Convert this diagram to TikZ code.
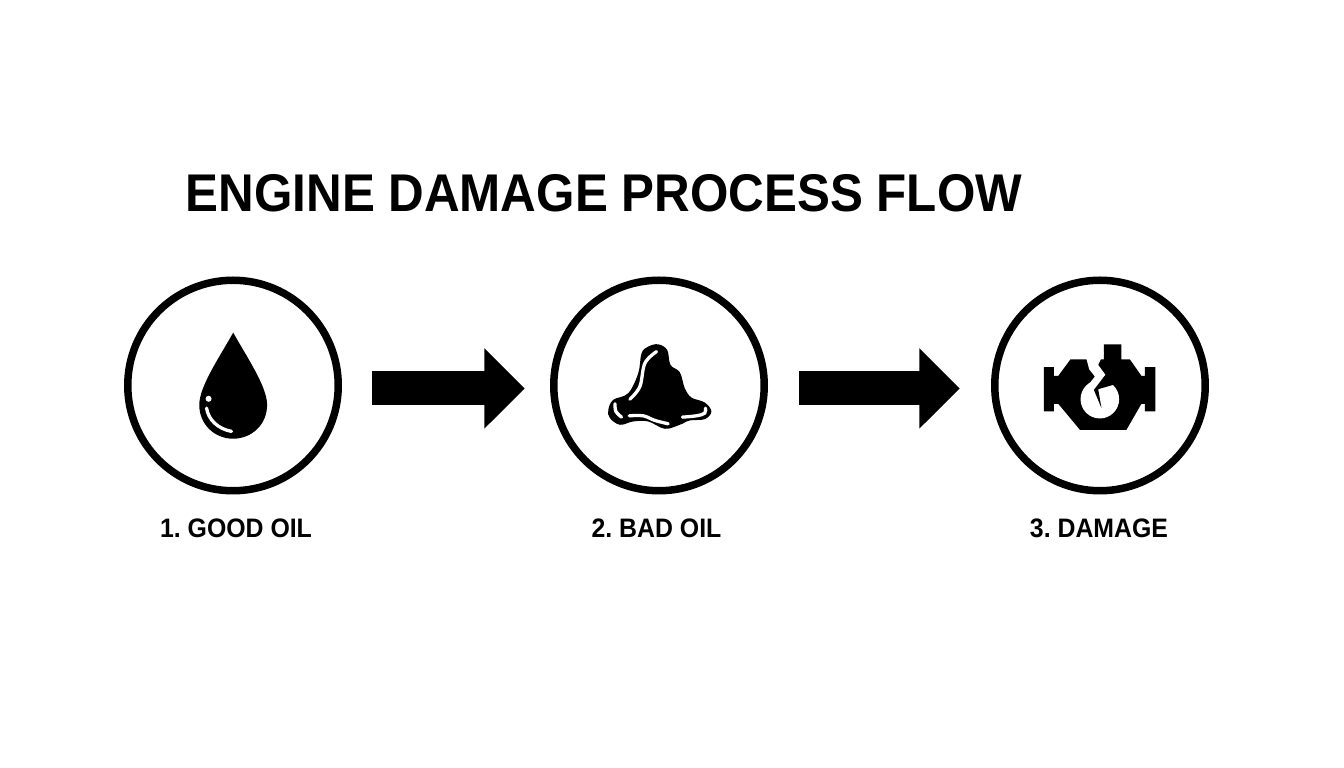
\documentclass[tikz,border=0pt]{standalone}
\usepackage{fontspec}
\setmainfont{Liberation Sans}[FakeStretch=.93]
\frenchspacing
\usetikzlibrary{arrows.meta}
\tikzstyle{ring}=[circle,draw,line width=.075cm,minimum size=2.105cm,inner sep=0,outer sep=0]
\tikzstyle{flowarrow}=[line width=.34cm,-{Triangle[length=.405cm,width=.78cm]}]
\tikzstyle{steplabel}=[anchor=base,inner sep=0,font=\fontsize{7.6}{9}\selectfont\bfseries]
\tikzstyle{titlelabel}=[anchor=base west,inner sep=0,font=\fontsize{15.1}{18}\selectfont\bfseries]
\tikzstyle{icon}=[x=.003333cm,y=-.003333cm]
\tikzstyle{shine}=[white,line width=.033cm,line cap=round]
\begin{document}
\begin{tikzpicture}
  \useasboundingbox (0,0) rectangle (13.44,7.68);
  \node[titlelabel] (title) at (1.85,5.56) {ENGINE DAMAGE PROCESS FLOW};
  \node[ring] (goodoil) at (2.33,3.825) {};
  \node[ring] (badoil) at (6.59,3.825) {};
  \node[ring] (damage) at (11.00,3.825) {};
  \node[steplabel] (goodtext) at (2.36,2.30) {1. GOOD OIL};
  \node[steplabel] (badtext) at (6.565,2.30) {2. BAD OIL};
  \node[steplabel] (damagetext) at (10.99,2.30) {3. DAMAGE};
  \draw[flowarrow,shorten <=.335cm,shorten >=.29cm] ([yshift=-.03cm]goodoil.east) -- ([yshift=-.03cm]badoil.west);
  \draw[flowarrow,shorten <=.35cm,shorten >=.35cm] ([yshift=-.03cm]badoil.east) -- ([yshift=-.03cm]damage.west);
  % drop
  \begin{scope}[icon,shift={(1.7cm,4.58cm)}]
    \fill (190,68) .. controls (150,140) and (88,230) .. (88,285)
      .. controls (88,345) and (135,387) .. (190,387)
      .. controls (245,387) and (292,345) .. (292,285)
      .. controls (292,230) and (230,140) .. (190,68);
    \fill[white] (116,267) circle (9);
    \draw[shine] (110,295) .. controls (115,330) and (145,358) .. (185,365);
  \end{scope}
  % puddle
  \begin{scope}[icon,shift={(5.9cm,4.38cm)}]
    \fill plot[smooth cycle,tension=.6] coordinates {(205,43) (232,60) (242,105) (270,127)
      (285,175) (305,203) (345,218) (365,245) (345,268) (300,272) (270,285) (225,297)
      (175,275) (130,275) (90,285) (60,265) (55,240) (70,210) (115,190) (145,130) (155,70) (175,50)};
    \draw[shine] plot[smooth,tension=.6] coordinates {(120,208) (150,170) (165,100) (200,65)};
    \draw[shine] plot[smooth,tension=.6] coordinates {(75,222) (78,245) (95,262)};
    \draw[shine] plot[smooth,tension=.6] coordinates {(118,258) (160,258) (195,272) (235,282)};
    \draw[shine] plot[smooth,tension=.6] coordinates {(278,262) (320,258) (345,250) (347,235)};
  \end{scope}
  % engine
  \begin{scope}[icon,shift={(10.3cm,4.38cm)}]
    \fill (42,112)--(72,112)--(72,138)--(85,138)--(122,88)--(222,88)--(222,43)--(275,43)
      --(275,88)--(300,88)--(335,138)--(345,138)--(345,112)--(377,112)--(377,245)
      --(345,245)--(345,222)--(335,222)--(290,300)--(150,300)--(85,222)--(72,222)
      --(72,245)--(42,245)--cycle;
    \fill[white] (165,80)--(222,68)--(205,105)--(227,135)--(192,180)--(200,200)--(160,185)
      --(195,140)--(178,118)--(170,88)--cycle;
    \fill[white] (210,208) circle (58);
    \fill (227,135)--(192,180)--(215,235)--(205,178)--(250,165)--(240,130)--cycle;
  \end{scope}
\end{tikzpicture}
\end{document}
